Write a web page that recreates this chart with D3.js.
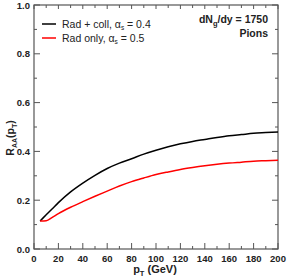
<!DOCTYPE html>
<html><head><meta charset="utf-8">
<script src="https://cdn.jsdelivr.net/npm/d3@7"></script>
<style>body{margin:0;background:#fff}svg{display:block;font-family:"Liberation Sans",Arial,sans-serif}</style>
</head><body><svg id="c" width="288" height="277"></svg>
<script>
const pT = [5,10,15,20,30,40,50,60,70,80,90,100,110,120,130,140,150,160,170,180,190,200];
const radColl = [0.115,0.14,0.165,0.19,0.234,0.27,0.302,0.33,0.352,0.37,0.389,0.405,0.419,0.431,0.441,0.449,0.457,0.464,0.469,0.474,0.477,0.48];
const radOnly = [0.115,0.116,0.13,0.145,0.171,0.194,0.216,0.237,0.258,0.276,0.291,0.305,0.316,0.326,0.334,0.341,0.347,0.352,0.356,0.36,0.362,0.364];
const xTicks = [0,20,40,60,80,100,120,140,160,180,200];
const yTicks = [0.0,0.2,0.4,0.6,0.8,1.0];
const seriesNames = ["Rad + coll, ", "Rad only, "];
const alphaVals = ["0.4","0.5"];
const colors = ["#000000","#ff0000"];

const svg = d3.select("#c");
const L=34, R=278, T=5, B=249;
const x = d3.scaleLinear().domain([0,200]).range([L,R]);
const y = d3.scaleLinear().domain([0,1]).range([B,T]);
const axisCol = "#555";

const xMinor = d3.range(10,200,20);
const yMinor = d3.range(0.1,1,0.2);
const g = svg.append("g").attr("stroke",axisCol).attr("stroke-width",1);
xTicks.forEach(v=>{ g.append("line").attr("x1",x(v)).attr("x2",x(v)).attr("y1",B).attr("y2",B-6);
  g.append("line").attr("x1",x(v)).attr("x2",x(v)).attr("y1",T).attr("y2",T+4);});
xMinor.forEach(v=>{ g.append("line").attr("x1",x(v)).attr("x2",x(v)).attr("y1",B).attr("y2",B-3);
  g.append("line").attr("x1",x(v)).attr("x2",x(v)).attr("y1",T).attr("y2",T+3);});
yTicks.forEach(v=>{ g.append("line").attr("y1",y(v)).attr("y2",y(v)).attr("x1",L).attr("x2",L+6);
  g.append("line").attr("y1",y(v)).attr("y2",y(v)).attr("x1",R).attr("x2",R-6);});
yMinor.forEach(v=>{ g.append("line").attr("y1",y(v)).attr("y2",y(v)).attr("x1",L).attr("x2",L+3);
  g.append("line").attr("y1",y(v)).attr("y2",y(v)).attr("x1",R).attr("x2",R-3);});
svg.append("rect").attr("x",L).attr("y",T).attr("width",R-L).attr("height",B-T)
  .attr("fill","none").attr("stroke",axisCol).attr("stroke-width",1.2);

svg.append("g").selectAll("text").data(xTicks).join("text")
  .attr("x",d=>x(d)).attr("y",B+13).attr("text-anchor","middle")
  .attr("font-size",9.5).attr("font-weight","bold").attr("fill","#222").text(d=>d);
svg.append("g").selectAll("text").data(yTicks).join("text")
  .attr("x",L-4).attr("y",d=>y(d)+3.5).attr("text-anchor","end")
  .attr("font-size",9.5).attr("font-weight","bold").attr("fill","#222").text(d=>d.toFixed(1));

const line = d3.line().x(d=>x(d[0])).y(d=>y(d[1])).curve(d3.curveMonotoneX);
[radColl, radOnly].forEach((s,i)=>{
  svg.append("path").attr("d",line(pT.map((p,j)=>[p,s[j]])))
    .attr("fill","none").attr("stroke",colors[i]).attr("stroke-width",1.5);
});

seriesNames.forEach((n,i)=>{
  const yy = 24 + i*14;
  svg.append("line").attr("x1",42).attr("x2",56).attr("y1",yy).attr("y2",yy)
    .attr("stroke",colors[i]).attr("stroke-width",1.5);
  const t = svg.append("text").attr("x",62).attr("y",yy+3.5).attr("font-size",10.5).attr("fill","#222");
  t.append("tspan").text(n);
  t.append("tspan").text("α");
  t.append("tspan").attr("font-size",6.5).attr("dy",2.5).text("s");
  t.append("tspan").attr("dy",-2.5).text(" = "+alphaVals[i]);
});

const a = svg.append("text").attr("x",268).attr("y",23).attr("text-anchor","end")
  .attr("font-size",10.5).attr("font-weight","bold").attr("fill","#222");
a.append("tspan").text("dN");
a.append("tspan").attr("font-size",7.5).attr("dy",3).text("g");
a.append("tspan").attr("dy",-3).text("/dy = 1750");
svg.append("text").attr("x",268).attr("y",37).attr("text-anchor","end")
  .attr("font-size",10.5).attr("font-weight","bold").attr("fill","#222").text("Pions");

const xt = svg.append("text").attr("x",155).attr("y",273).attr("text-anchor","middle")
  .attr("font-size",11).attr("font-weight","bold").attr("fill","#222");
xt.append("tspan").text("p");
xt.append("tspan").attr("font-size",7.5).attr("dy",3).text("T");
xt.append("tspan").attr("dy",-3).text(" (GeV)");
const yt = svg.append("text").attr("transform","translate(14,138) rotate(-90)").attr("text-anchor","middle")
  .attr("font-size",10.5).attr("font-weight","bold").attr("fill","#222");
yt.append("tspan").text("R");
yt.append("tspan").attr("font-size",7).attr("dy",3).text("AA");
yt.append("tspan").attr("dy",-3).text("(p");
yt.append("tspan").attr("font-size",7).attr("dy",3).text("T");
yt.append("tspan").attr("dy",-3).text(")");
</script></body></html>
